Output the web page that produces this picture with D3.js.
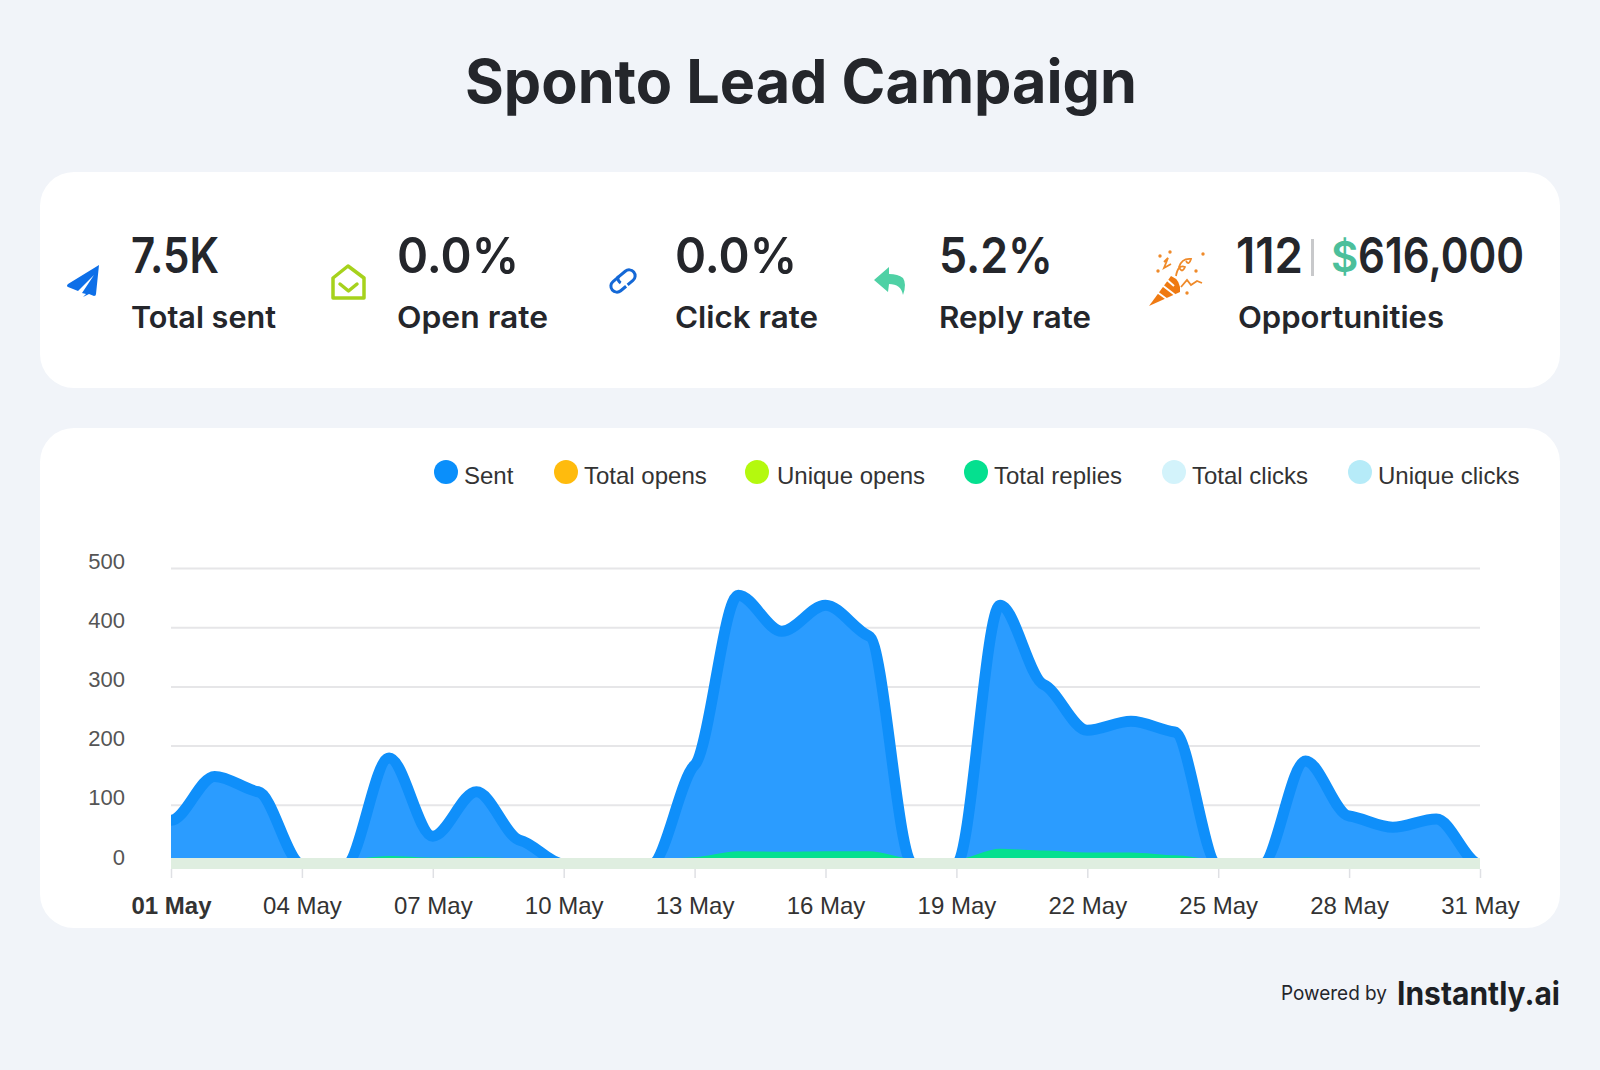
<!DOCTYPE html>
<html><head><meta charset="utf-8">
<script src="https://cdnjs.cloudflare.com/ajax/libs/d3/7.8.5/d3.min.js"></script>
<style>html,body{margin:0;padding:0;background:#f1f4f9}svg{display:block}</style>
</head><body><svg id="c" width="1600" height="1070"></svg>
<script>
const days = d3.range(1,32).map(d=>String(d).padStart(2,'0')+' May');
const sent = [74,148,122,0,0,179,47,122,40,0,0,0,167,454,393,437,385,0,0,437,303,226,241,223,0,0,174,81,62,76,0];
const totalOpens = new Array(31).fill(0);
const uniqueOpens = new Array(31).fill(0);
const totalReplies = [1,1,1,0,0,6,3,4,2,0,0,0,4,14,13,14,14,1,0,18,15,12,12,7,0,0,3,2,2,2,0];
const totalClicks = new Array(31).fill(0);
const uniqueClicks = new Array(31).fill(0);
const legendNames = ['Sent','Total opens','Unique opens','Total replies','Total clicks','Unique clicks'];
const legendColors = ['#0a8ffb','#ffbb0d','#b4f90e','#05e08f','#d3f3fb','#b6ebf8'];
const yTicks = [0,100,200,300,400,500];
const xTickLabels = days.filter((d,i)=>i%3===0 && i<30).concat(['31 May']);
const statValues = ['7.5K','0.0%','0.0%','5.2%'];
const statLabels = ['Total sent','Open rate','Click rate','Reply rate','Opportunities'];

// Curve with damped monotone tangents: keeps the soft shoulders at each day.
class SoftCurve {
  constructor(ctx){ this.c = ctx; this.a = NaN; }
  areaStart(){ this.a = 0; }
  areaEnd(){ this.a = NaN; }
  lineStart(){ this.p = []; }
  point(x,y){ this.p.push([+x,+y]); }
  lineEnd(){
    const p = this.p, n = p.length, K = 0.3;
    if (this.a) this.c.lineTo(p[0][0],p[0][1]); else this.c.moveTo(p[0][0],p[0][1]);
    const s = d3.range(n-1).map(i=>(p[i+1][1]-p[i][1])/(p[i+1][0]-p[i][0]));
    const m = p.map((_,i)=>{
      if (i===0||i===n-1) return 0;
      const a=s[i-1], b=s[i];
      return a*b<=0 ? 0 : K*2*a*b/(a+b);
    });
    for (let i=0;i<n-1;i++){
      const h=(p[i+1][0]-p[i][0])/3;
      this.c.bezierCurveTo(p[i][0]+h,p[i][1]+m[i]*h,p[i+1][0]-h,p[i+1][1]-m[i+1]*h,p[i+1][0],p[i+1][1]);
    }
    if (this.a) this.c.closePath();
    this.a = 1 - this.a;
  }
}
const softCurve = ctx => new SoftCurve(ctx);

const svg = d3.select('#c');
const HEAD = "Inter, 'Noto Sans', sans-serif";
const AR = "'Liberation Sans', Arial, sans-serif";
const INK = '#24262b';

svg.append('rect').attr('width',1600).attr('height',1070).attr('fill','#f1f4f9');
svg.append('rect').attr('x',40).attr('y',172).attr('width',1520).attr('height',216).attr('rx',34).attr('fill','#fff');
svg.append('rect').attr('x',40).attr('y',428).attr('width',1520).attr('height',500).attr('rx',34).attr('fill','#fff');

function fit(sel, len){ sel.attr('textLength',len).attr('lengthAdjust','spacingAndGlyphs'); return sel; }
function txt(x,y,s,size,weight,fill,font,anchor){
  return svg.append('text').attr('x',x).attr('y',y).text(s).attr('font-size',size).attr('font-weight',weight)
    .attr('fill',fill).attr('font-family',font).attr('text-anchor',anchor||'start');
}
fit(txt(465,103,'Sponto Lead Campaign',60,700,INK,HEAD),672);

// stats
const statX = [131,397,675,939];
const statW = [88,122,122,114];
const labelW = [145,151,143,152];
statValues.forEach((s,i)=>{ fit(txt(statX[i],273,s,49,600,INK,HEAD),statW[i]); });
statLabels.forEach((s,i)=>{
  const x = i<4?statX[i]:1238;
  fit(txt(x,328,s,30,600,INK,HEAD), i<4?labelW[i]:206);
});
fit(txt(1236,273,'112',49,600,INK,HEAD),67);
svg.append('rect').attr('x',1311).attr('y',239).attr('width',3).attr('height',37).attr('fill','#c8c9cb');
txt(1331,272,'$',42,600,'#4cbf9b',HEAD);
fit(txt(1358,273,'616,000',49,600,INK,HEAD),166);

// icons
svg.append('path').attr('transform','translate(67,265)')
  .attr('d','M32 0 L1 19 Q-1 21 1 22 L11 26 L27 10 L15 28 L19 29 L16 32 Q20 30 22 29 L27 31 Q29 31 29 29 Z')
  .attr('fill','#0d6fe8');
const env = svg.append('g').attr('transform','translate(332,265)').attr('fill','none').attr('stroke','#a6d21c').attr('stroke-width',3.5).attr('stroke-linejoin','round').attr('stroke-linecap','round');
env.append('path').attr('d','M1 13 L16 1 L32 13 V33 H1 Z');
env.append('path').attr('d','M8 19 L16.5 26 L25 19');
const lnk = svg.append('g').attr('transform','translate(609,267) rotate(-40 14 14)').attr('fill','none').attr('stroke','#1468d6').attr('stroke-width',3);
lnk.append('path').attr('d','M14 8 H6 A6 6 0 0 0 6 20 H13');
lnk.append('path').attr('d','M15 20 H22 A6 6 0 0 0 22 8 H12 Q10 11 11 14');
svg.append('path').attr('transform','translate(874,267)')
  .attr('d','M15 0 L0 13 L14 25 L15 17 Q27 17 29 28 Q33 17 29 11 Q24 7 15 7 Z').attr('fill','#4fd1a5');
const party = svg.append('g').attr('transform','translate(1149,250)');
party.append('path').attr('d','M0 56 L22 26 Q32 30 31 42 Z').attr('fill','#ef7a12');
party.append('path').attr('d','M8 42 L19 50 M13 35 L26 45 M17 29 L25 36').attr('stroke','#fff').attr('stroke-width',2).attr('fill','none');
party.append('path').attr('d','M15 12 L19 8 L15 18 L22 14 M27 26 Q29 14 36 17 Q33 24 30 17 Q33 8 42 9 Q40 16 37 11 M32 37 L38 30 L42 35 L48 31 L53 33')
  .attr('stroke','#ef8a2a').attr('stroke-width',1.8).attr('fill','none');
party.selectAll('circle.c').data([[11,6],[21,2],[9,21],[54,4],[47,21],[38,43]]).join('circle')
  .attr('cx',d=>d[0]).attr('cy',d=>d[1]).attr('r',1.7).attr('fill','#ef8a2a');

// chart
const left=171, right=1480;
const x = d3.scalePoint().domain(days).range([left,right]);
const y = d3.scaleLinear().domain([0,500]).range([864,568]);

svg.append('clipPath').attr('id','plot').append('rect')
  .attr('x',left).attr('y',540).attr('width',right-left).attr('height',329);

const gy = svg.append('g').attr('transform',`translate(${left},0)`)
  .call(d3.axisLeft(y).tickValues(yTicks).tickSize(-(right-left)).tickPadding(46));
gy.select('.domain').remove();
gy.selectAll('.tick line').attr('stroke','#e6e6e8').attr('stroke-width',2);
gy.selectAll('.tick text').attr('font-family',AR).attr('font-size',22).attr('fill','#555').attr('dy','0');

const area = d3.area().x((d,i)=>x(days[i])).y0(y(0)).y1(d=>y(d)).curve(softCurve);
const line = d3.line().x((d,i)=>x(days[i])).y(d=>y(d)).curve(softCurve);

const plot = svg.append('g').attr('clip-path','url(#plot)');
plot.append('path').datum(sent).attr('d',area).attr('fill','#2b9cff');
plot.append('path').datum(sent).attr('d',line).attr('fill','none').attr('stroke','#0f8ffa').attr('stroke-width',11).attr('stroke-linejoin','round');
plot.append('path').datum(totalOpens).attr('d',line).attr('fill','none').attr('stroke',legendColors[1]).attr('stroke-width',9);
plot.append('path').datum(uniqueOpens).attr('d',line).attr('fill','none').attr('stroke',legendColors[2]).attr('stroke-width',9);
plot.append('path').datum(totalReplies).attr('d',area).attr('fill',legendColors[3]);
plot.append('path').datum(totalReplies).attr('d',line).attr('fill','none').attr('stroke',legendColors[3]).attr('stroke-width',9);
plot.append('path').datum(totalClicks).attr('d',line).attr('fill','none').attr('stroke',legendColors[4]).attr('stroke-width',12);
plot.append('path').datum(uniqueClicks).attr('d',line).attr('fill','none').attr('stroke','#dfeee0').attr('stroke-width',12);

const gx = svg.append('g').attr('transform','translate(0,869)')
  .call(d3.axisBottom(x).tickValues(xTickLabels).tickSize(9).tickPadding(26));
gx.select('.domain').remove();
gx.selectAll('.tick line').attr('stroke','#dfe0e4').attr('stroke-width',1.5);
gx.selectAll('.tick text').attr('font-family',AR).attr('font-size',24).attr('fill','#333')
  .attr('font-weight',d=>d==='01 May'?700:400).attr('dy','0').attr('y',45);

// legend
const legX=[446,566,757,976,1174,1360];
const legTextX=[464,584,777,994,1192,1378];
legendNames.forEach((n,i)=>{
  svg.append('circle').attr('cx',legX[i]).attr('cy',472).attr('r',12).attr('fill',legendColors[i]);
  txt(legTextX[i],484,n,24,400,'#333',AR);
});

// footer
fit(txt(1281,1000,'Powered by',20,400,INK,HEAD),106);
fit(txt(1397,1005,'Instantly.ai',32,700,'#1d1f24',HEAD),163);
</script></body></html>
